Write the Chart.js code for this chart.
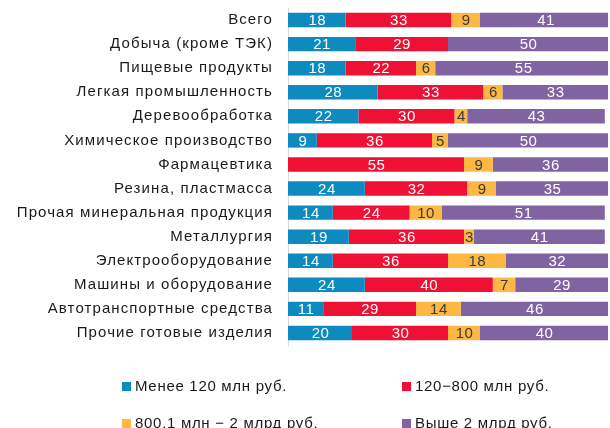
<!DOCTYPE html>
<html>
<head>
<meta charset="utf-8">
<script src="https://cdn.jsdelivr.net/npm/chart.js@4/dist/chart.umd.min.js"></script>
<style>
  html, body { margin: 0; padding: 0; background: #fff; }
  #wrap { position: relative; width: 610px; height: 428px; overflow: hidden; }
  #c { position: absolute; left: 0; top: 0; }
  .lg { position: absolute; font: 15px "Liberation Sans", Arial, sans-serif; letter-spacing: 0.7px; color: #1a1a1a; white-space: nowrap; line-height: 16px; }
  .lg span.box { position: absolute; left: -13px; top: 4px; width: 9px; height: 9px; }
</style>
</head>
<body>
<div id="wrap">
  <canvas id="c" width="610" height="428"></canvas>
  <div id="legend"></div>
</div>
<script>
const categories = [
  "Всего",
  "Добыча (кроме ТЭК)",
  "Пищевые продукты",
  "Легкая промышленность",
  "Деревообработка",
  "Химическое производство",
  "Фармацевтика",
  "Резина, пластмасса",
  "Прочая минеральная продукция",
  "Металлургия",
  "Электрооборудование",
  "Машины и оборудование",
  "Автотранспортные средства",
  "Прочие готовые изделия"
];
const seriesNames = ["Менее 120 млн руб.", "120−800 млн руб.", "800,1 млн − 2 млрд руб.", "Выше 2 млрд руб."];
const under120 = [18, 21, 18, 28, 22, 9, 0, 24, 14, 19, 14, 24, 11, 20];
const from120to800 = [33, 29, 22, 33, 30, 36, 55, 32, 24, 36, 36, 40, 29, 30];
const from800to2000 = [9, 0, 6, 6, 4, 5, 9, 9, 10, 3, 18, 7, 14, 10];
const over2000 = [41, 50, 55, 33, 43, 50, 36, 35, 51, 41, 32, 29, 46, 40];

const colors = ["#0E8BBE", "#EE1133", "#FDB843", "#8064A2"];
const labelColors = ["#ffffff", "#ffffff", "#3a3a3a", "#ffffff"];
const seriesData = [under120, from120to800, from800to2000, over2000];

const FONT = '"Liberation Sans", Arial, sans-serif';

const spacing = {
  id: 'spacing',
  beforeLayout(chart) { chart.ctx.letterSpacing = '1.1px'; },
  beforeDraw(chart) { chart.ctx.letterSpacing = '1.1px'; }
};

const valueLabels = {
  id: 'valueLabels',
  afterDatasetsDraw(chart) {
    const ctx = chart.ctx;
    ctx.save();
    ctx.letterSpacing = '0.5px';
    ctx.font = '15px ' + FONT;
    ctx.textAlign = 'center';
    ctx.textBaseline = 'middle';
    chart.data.datasets.forEach((ds, di) => {
      const meta = chart.getDatasetMeta(di);
      meta.data.forEach((el, i) => {
        const v = ds.data[i];
        if (!v) return;
        ctx.fillStyle = labelColors[di];
        ctx.fillText(String(v), (el.x + el.base) / 2 + 0.5, el.y + 1);
      });
    });
    ctx.restore();
  }
};

new Chart(document.getElementById('c'), {
  type: 'bar',
  data: {
    labels: categories,
    datasets: seriesData.map((d, i) => ({
      label: seriesNames[i],
      data: d,
      backgroundColor: colors[i],
      borderWidth: 0,
      categoryPercentage: 1,
      barPercentage: 0.6
    }))
  },
  options: {
    indexAxis: 'y',
    responsive: false,
    animation: false,
    events: [],
    layout: { padding: { top: 8, bottom: 83, left: 0, right: 2 } },
    plugins: { legend: { display: false }, tooltip: { enabled: false } },
    scales: {
      x: { stacked: true, min: 0, max: 100, display: false },
      y: {
        stacked: true,
        grid: { display: false, drawTicks: false },
        border: { display: true, color: '#d9d9d9', width: 1 },
        ticks: { color: '#1a1a1a', font: { family: FONT, size: 15 }, padding: 15, autoSkip: false },
        afterFit(s) { s.width = 288; s.paddingTop = 0; s.paddingBottom = 0; }
      }
    }
  },
  plugins: [spacing, valueLabels]
});

// legend (2 columns)
const legendPos = [[135, 378], [415, 378], [135, 415], [415, 415]];
const lg = document.getElementById('legend');
seriesNames.forEach((n, i) => {
  const d = document.createElement('div');
  d.className = 'lg';
  d.style.left = legendPos[i][0] + 'px';
  d.style.top = legendPos[i][1] + 'px';
  d.innerHTML = '<span class="box" style="background:' + colors[i] + '"></span>' + n;
  lg.appendChild(d);
});
</script>
</body>
</html>
